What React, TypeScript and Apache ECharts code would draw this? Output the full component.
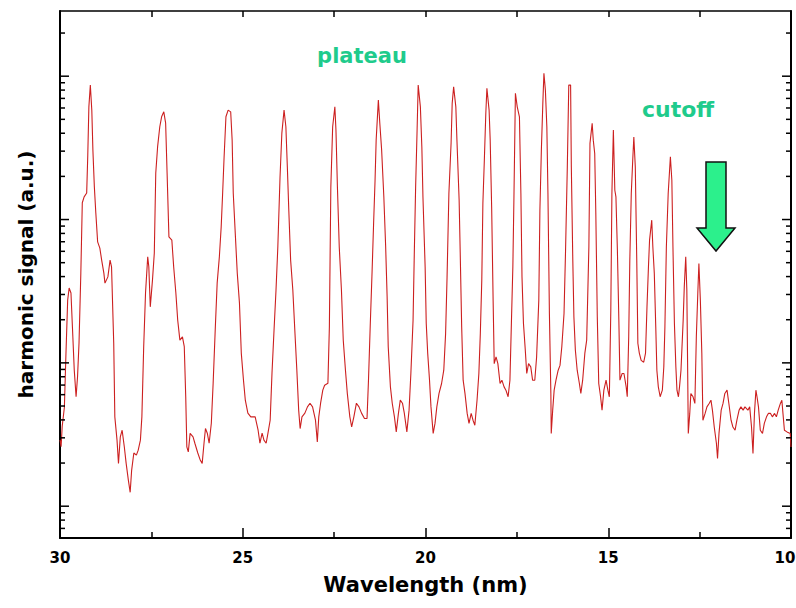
import React, { useEffect, useRef } from "react";
import * as echarts from "echarts";

// Wavelength (nm) of each sample
const wavelength = [
  30.0, 29.97, 29.94, 29.88, 29.84, 29.79, 29.75, 29.7, 29.66, 29.61,
  29.56, 29.52, 29.48, 29.43, 29.39, 29.34, 29.27, 29.24, 29.21, 29.17,
  29.13, 29.1, 29.06, 29.02, 28.97, 28.91, 28.86, 28.8, 28.77, 28.69,
  28.63, 28.59, 28.53, 28.5, 28.44, 28.4, 28.35, 28.3, 28.24, 28.19,
  28.13, 28.08, 28.04, 27.98, 27.91, 27.86, 27.8, 27.76, 27.71, 27.66,
  27.6, 27.57, 27.53, 27.47, 27.42, 27.38, 27.33, 27.27, 27.22, 27.16,
  27.11, 27.07, 27.02, 26.94, 26.89, 26.83, 26.78, 26.72, 26.65, 26.6,
  26.56, 26.53, 26.49, 26.44, 26.36, 26.31, 26.23, 26.16, 26.11, 26.06,
  26.02, 25.97, 25.92, 25.86, 25.81, 25.75, 25.7, 25.64, 25.59, 25.55,
  25.51, 25.46, 25.4, 25.33, 25.29, 25.26, 25.2, 25.15, 25.09, 25.04,
  24.98, 24.93, 24.86, 24.78, 24.66, 24.58, 24.53, 24.47, 24.42, 24.36,
  24.31, 24.25, 24.2, 24.14, 24.09, 24.04, 23.98, 23.93, 23.87, 23.82,
  23.78, 23.74, 23.69, 23.63, 23.58, 23.52, 23.47, 23.43, 23.38, 23.3,
  23.23, 23.16, 23.09, 23.01, 22.96, 22.92, 22.87, 22.81, 22.76, 22.67,
  22.63, 22.59, 22.54, 22.48, 22.45, 22.41, 22.36, 22.3, 22.25, 22.19,
  22.14, 22.07, 22.02, 21.96, 21.89, 21.82, 21.75, 21.67, 21.6, 21.56,
  21.51, 21.46, 21.42, 21.38, 21.35, 21.29, 21.25, 21.2, 21.14, 21.09,
  21.05, 21.02, 20.96, 20.91, 20.85, 20.8, 20.74, 20.69, 20.63, 20.58,
  20.51, 20.45, 20.4, 20.34, 20.31, 20.27, 20.23, 20.2, 20.14, 20.1,
  20.07, 20.01, 19.98, 19.94, 19.89, 19.85, 19.79, 19.74, 19.69, 19.63,
  19.56, 19.5, 19.45, 19.41, 19.36, 19.3, 19.27, 19.23, 19.17, 19.14,
  19.08, 19.05, 19.01, 18.97, 18.92, 18.86, 18.81, 18.75, 18.7, 18.65,
  18.59, 18.54, 18.5, 18.46, 18.43, 18.39, 18.35, 18.32, 18.26, 18.23,
  18.19, 18.15, 18.12, 18.07, 18.02, 17.96, 17.91, 17.85, 17.8, 17.74,
  17.69, 17.65, 17.61, 17.58, 17.54, 17.49, 17.43, 17.39, 17.36, 17.32,
  17.27, 17.23, 17.18, 17.12, 17.07, 17.01, 16.96, 16.9, 16.87, 16.83,
  16.79, 16.76, 16.72, 16.68, 16.65, 16.61, 16.57, 16.56, 16.52, 16.48,
  16.43, 16.37, 16.32, 16.27, 16.21, 16.17, 16.12, 16.08, 16.03, 16.01,
  15.97, 15.94, 15.9, 15.85, 15.79, 15.75, 15.7, 15.64, 15.59, 15.53,
  15.5, 15.44, 15.41, 15.37, 15.34, 15.3, 15.26, 15.21, 15.17, 15.12,
  15.06, 15.01, 14.97, 14.93, 14.9, 14.86, 14.82, 14.79, 14.75, 14.71,
  14.68, 14.62, 14.57, 14.51, 14.48, 14.44, 14.41, 14.37, 14.33, 14.3,
  14.26, 14.22, 14.19, 14.15, 14.1, 14.03, 13.98, 13.94, 13.9, 13.87,
  13.81, 13.78, 13.74, 13.7, 13.67, 13.63, 13.58, 13.52, 13.48, 13.45,
  13.41, 13.36, 13.3, 13.26, 13.23, 13.19, 13.15, 13.12, 13.08, 13.05,
  13.01, 12.95, 12.92, 12.88, 12.85, 12.83, 12.81, 12.77, 12.74, 12.68,
  12.63, 12.59, 12.55, 12.52, 12.48, 12.44, 12.41, 12.35, 12.3, 12.24,
  12.19, 12.15, 12.1, 12.04, 12.01, 11.97, 11.91, 11.86, 11.81, 11.75,
  11.7, 11.64, 11.59, 11.53, 11.48, 11.42, 11.37, 11.31, 11.26, 11.18,
  11.13, 11.08, 11.04, 11.0, 10.96, 10.93, 10.89, 10.84, 10.78, 10.73,
  10.67, 10.62, 10.56, 10.51, 10.45, 10.4, 10.35, 10.29, 10.25, 10.22,
  10.18, 10.11, 10.02, 10.0,
];

// Harmonic signal (a.u., log scale) of each sample
const signal = [
  2.9, 2.6, 3.6, 4.9, 11.0, 27.4, 33.3, 30.7, 17.8, 8.9,
  5.8, 8.0, 13.7, 42.3, 131, 144, 153, 281, 611, 867,
  580, 305, 169, 111, 69.8, 63.2, 52.1, 42.3, 36.0, 39.8,
  52.1, 46.8, 13.7, 4.2, 2.89, 1.99, 3.05, 3.39, 2.59, 1.99,
  1.52, 1.25, 1.78, 2.35, 2.27, 2.46, 2.89, 4.2, 13.0, 30.7,
  54.9, 46.8, 24.6, 37.8, 58.3, 211, 321, 444, 521, 564,
  471, 211, 75.7, 71.8, 46.8, 30.7, 19.9, 14.4, 15.2, 13.0,
  5.8, 2.59, 2.39, 3.22, 3.05, 2.75, 2.35, 2.09, 1.99, 2.75,
  3.48, 3.23, 2.75, 3.79, 7.2, 17.8, 36.0, 54.9, 88.9, 153,
  274, 521, 580, 564, 358, 153, 75.7, 42.3, 26.1, 11.7,
  7.57, 5.49, 4.46, 4.2, 4.2, 3.39, 2.75, 3.23, 2.89, 2.75,
  3.23, 3.98, 8.47, 17.8, 32.2, 64.5, 198, 401, 580, 444,
  233, 116, 52.1, 32.2, 17.8, 8.89, 4.68, 3.48, 4.2, 4.46,
  4.93, 5.23, 4.93, 3.98, 2.81, 4.2, 5.23, 6.45, 6.98, 7.2,
  17.8, 169, 444, 611, 421, 169, 64.5, 32.2, 14.4, 8.89,
  6.15, 4.2, 3.57, 4.2, 5.23, 4.93, 4.46, 4.09, 4.09, 7.57,
  18.9, 44.4, 93.9, 188, 358, 681, 469, 305, 144, 64.5,
  28.9, 13.0, 6.8, 5.23, 4.2, 3.3, 4.46, 5.49, 5.23, 4.46,
  3.3, 4.68, 8.47, 19.9, 52.1, 169, 421, 867, 611, 321,
  144, 46.8, 18.9, 11.7, 7.57, 4.93, 3.22, 3.78, 4.93, 6.12,
  7.18, 8.89, 16.0, 39.8, 152, 340, 646, 843, 611, 358,
  137, 58.1, 17.8, 7.57, 6.12, 4.44, 3.78, 4.44, 3.98, 3.67,
  5.49, 8.43, 16.0, 37.8, 130, 260, 550, 822, 580, 358,
  122, 27.4, 9.87, 11.0, 9.87, 7.18, 7.57, 6.8, 6.45, 5.8,
  7.57, 18.9, 46.8, 144, 759, 611, 521, 152, 39.8, 18.9,
  12.3, 8.43, 9.87, 9.37, 7.57, 7.57, 11.0, 27.4, 116, 305,
  646, 1047, 800, 444, 152, 22.1, 6.12, 3.22, 4.68, 6.45,
  7.57, 8.89, 9.6, 13.0, 22.1, 58.1, 233, 867, 867, 233,
  52.1, 21.0, 12.3, 8.89, 7.18, 6.12, 7.57, 11.7, 14.4, 64.5,
  340, 469, 358, 289, 110, 21.0, 7.18, 5.8, 4.68, 6.45,
  7.57, 6.45, 5.8, 23.3, 152, 421, 160, 144, 61.2, 19.9,
  7.57, 8.43, 8.43, 6.8, 5.8, 15.2, 52.1, 152, 260, 377,
  233, 52.1, 13.7, 11.7, 10.4, 10.1, 11.7, 24.6, 46.8, 71.8,
  99, 64.5, 42.1, 17.8, 8.89, 6.8, 5.8, 6.45, 9.37, 17.8,
  64.5, 152, 274, 188, 64.5, 18.9, 9.37, 6.45, 5.8, 6.8,
  8.89, 19.9, 33.9, 54.9, 32.2, 10.4, 3.22, 4.44, 6.12, 5.8,
  5.21, 15.2, 30.5, 49.4, 27.4, 11.7, 3.98, 4.44, 4.93, 5.21,
  5.49, 4.68, 3.57, 2.74, 2.15, 3.22, 4.68, 5.21, 6.12, 6.45,
  5.21, 3.98, 3.57, 3.39, 3.98, 4.68, 4.93, 4.68, 4.93, 4.68,
  4.93, 3.57, 2.33, 4.44, 6.45, 5.8, 4.93, 3.39, 3.22, 3.78,
  4.2, 4.44, 4.44, 4.2, 4.44, 4.2, 4.68, 5.21, 5.49, 4.44,
  3.39, 3.3, 3.22, 2.59,
];

// Log-axis tick values (decades and their minor subdivisions)
const yMajorTicks = [1, 10, 100, 1000];
const yMinorTicks = [
  0.6, 0.7, 0.8, 0.9,
  2, 3, 4, 5, 6, 7, 8, 9,
  20, 30, 40, 50, 60, 70, 80, 90,
  200, 300, 400, 500, 600, 700, 800, 900,
  2000,
];

const xTickLabels = ["30", "25", "20", "15", "10"];
const annotations = ["plateau", "cutoff"];
const axisTitles = ["Wavelength (nm)", "harmonic signal (a.u.)"];

const FONT = "'DejaVu Sans', 'Liberation Sans', sans-serif";

export default function App() {
  const ref = useRef<HTMLDivElement>(null);

  useEffect(() => {
    if (!ref.current) return;
    const chart = echarts.init(ref.current, null, {
      renderer: "svg",
      width: 796,
      height: 608,
    });
    const n = Math.min(wavelength.length, signal.length);
    const lineData: number[][] = [];
    for (let i = 0; i < n; i++) lineData.push([wavelength[i], signal[i]]);

    const tickData = [
      ...yMajorTicks.map((v) => [30, v, 1]),
      ...yMinorTicks.map((v) => [30, v, 0]),
    ];

    const xMin = 10;
    const xMax = 30;
    const labelStyle = { color: "#000", fontFamily: FONT, fontWeight: "bold", fontSize: 15 };

    const option: any = {
      animation: false,
      backgroundColor: "#ffffff",
      grid: {
        left: 60,
        right: 5,
        top: 11,
        bottom: 70,
        containLabel: false,
        outerBoundsMode: "none",
      },
      xAxis: [
        {
          type: "value",
          min: xMin,
          max: xMax,
          interval: 5,
          inverse: true,
          position: "bottom",
          axisLine: { onZero: false, lineStyle: { color: "#000", width: 2 } },
          axisTick: { inside: true, length: 10, lineStyle: { color: "#000", width: 1.5 } },
          minorTick: { show: true, splitNumber: 2, length: 6, lineStyle: { color: "#000", width: 1.5 } },
          axisLabel: {
            ...labelStyle,
            margin: 12,
            formatter: (v: number) => {
              const idx = Math.round((xMax - v) / 5);
              const txt = xTickLabels[idx] ?? String(v);
              return v === xMin ? `{edge|${txt}}` : txt;
            },
            rich: {
              edge: { ...labelStyle, padding: [0, 12, 0, 0] },
            },
          },
          splitLine: { show: false },
          name: axisTitles[0],
          nameLocation: "middle",
          nameGap: 36,
          nameTextStyle: { color: "#000", fontFamily: FONT, fontWeight: "bold", fontSize: 21 },
        },
        {
          type: "value",
          min: xMin,
          max: xMax,
          interval: 2.5,
          inverse: true,
          position: "top",
          axisLine: { onZero: false, lineStyle: { color: "#000", width: 1.5 } },
          axisTick: { inside: true, length: 6, lineStyle: { color: "#000", width: 1.5 } },
          axisLabel: { show: false },
          splitLine: { show: false },
        },
      ],
      yAxis: [
        {
          type: "log",
          logBase: 10,
          min: 0.6,
          max: 2850,
          position: "left",
          axisLine: { show: true, onZero: false, lineStyle: { color: "#000", width: 2 } },
          axisTick: { show: false },
          axisLabel: { show: false },
          splitLine: { show: false },
          name: axisTitles[1],
          nameLocation: "middle",
          nameGap: 24,
          nameTextStyle: { color: "#000", fontFamily: FONT, fontWeight: "bold", fontSize: 20 },
        },
        {
          type: "log",
          logBase: 10,
          min: 0.6,
          max: 2850,
          position: "right",
          axisLine: { show: true, onZero: false, lineStyle: { color: "#000", width: 2 } },
          axisTick: { show: false },
          axisLabel: { show: false },
          splitLine: { show: false },
        },
      ],
      series: [
        {
          type: "line",
          xAxisIndex: 0,
          yAxisIndex: 0,
          data: lineData,
          showSymbol: false,
          symbol: "none",
          lineStyle: { color: "#cc2020", width: 1.1 },
          silent: true,
          z: 3,
        },
        {
          type: "custom",
          xAxisIndex: 0,
          yAxisIndex: 0,
          data: tickData,
          encode: { x: 0, y: 1 },
          silent: true,
          clip: false,
          z: 5,
          renderItem: (params: any, api: any) => {
            const v = api.value(1);
            const major = api.value(2) === 1;
            const len = major ? 9 : 5;
            const l = api.coord([xMax, v]);
            const r = api.coord([xMin, v]);
            return {
              type: "group",
              children: [
                {
                  type: "line",
                  shape: { x1: l[0], y1: l[1], x2: l[0] + len, y2: l[1] },
                  style: { stroke: "#000", lineWidth: 1.5 },
                },
                {
                  type: "line",
                  shape: { x1: r[0], y1: r[1], x2: r[0] - len, y2: r[1] },
                  style: { stroke: "#000", lineWidth: 1.5 },
                },
              ],
            };
          },
        },
      ],
      graphic: [
        {
          type: "text",
          x: 362,
          y: 56,
          style: {
            text: annotations[0],
            fill: "#1fcb8c",
            fontFamily: FONT,
            fontWeight: "bold",
            fontSize: 21,
            align: "center",
            verticalAlign: "middle",
          },
        },
        {
          type: "text",
          x: 678,
          y: 109,
          style: {
            text: annotations[1],
            fill: "#1fcb8c",
            fontFamily: FONT,
            fontWeight: "bold",
            fontSize: 22,
            align: "center",
            verticalAlign: "middle",
          },
        },
        {
          type: "polygon",
          shape: {
            points: [
              [706, 162],
              [726, 162],
              [726, 228],
              [735, 228],
              [716, 251],
              [697, 228],
              [706, 228],
            ],
          },
          style: { fill: "#2cf08c", stroke: "#111", lineWidth: 1.5 },
        },
      ],
    };

    chart.setOption(option);
    return () => chart.dispose();
  }, []);

  return (
    <div
      ref={ref}
      style={{ position: "fixed", left: 0, top: 0, width: 796, height: 608 }}
    />
  );
}
